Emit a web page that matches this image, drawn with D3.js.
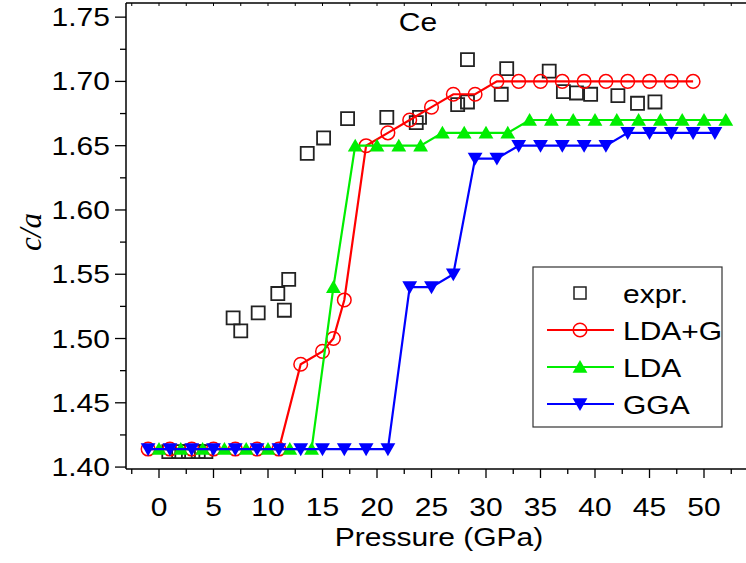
<!DOCTYPE html>
<html>
<head>
<meta charset="utf-8">
<script src="https://cdn.jsdelivr.net/npm/d3@7"></script>
<style>
  html, body { margin: 0; padding: 0; background: #fff; }
  svg { display: block; }
</style>
</head>
<body>
<svg id="chart" width="746" height="563"></svg>
<script>
// ---------------- data ----------------
const exprPressure = [0.9, 1.8, 2.7, 3.6, 4.3, 6.8, 7.5, 9.1, 10.9, 11.9, 11.5, 13.6, 15.1, 17.3, 20.9, 23.9, 23.6, 27.4, 28.3, 28.3, 31.4, 31.9, 35.8, 37.1, 38.3, 39.6, 42.1, 43.9, 45.5];
const exprCA       = [1.412, 1.412, 1.412, 1.412, 1.412, 1.516, 1.506, 1.520, 1.535, 1.546, 1.522, 1.644, 1.656, 1.671, 1.672, 1.672, 1.668, 1.682, 1.684, 1.717, 1.690, 1.710, 1.708, 1.692, 1.691, 1.690, 1.689, 1.683, 1.684];

const ldagPressure = [-1, 1, 3, 5, 7, 9, 11, 13, 15, 16, 17, 19, 21, 23, 25, 27, 29, 31, 33, 35, 37, 39, 41, 43, 45, 47, 49];
const ldagCA       = [1.414, 1.414, 1.414, 1.414, 1.414, 1.414, 1.414, 1.48, 1.49, 1.50, 1.53, 1.65, 1.66, 1.67, 1.68, 1.69, 1.69, 1.70, 1.70, 1.70, 1.70, 1.70, 1.70, 1.70, 1.70, 1.70, 1.70];

const ldaPressure = [0, 2, 4, 6, 8, 10, 12, 14, 16, 18, 20, 22, 24, 26, 28, 30, 32, 34, 36, 38, 40, 42, 44, 46, 48, 50, 52];
const ldaCA       = [1.414, 1.414, 1.414, 1.414, 1.414, 1.414, 1.414, 1.414, 1.54, 1.65, 1.65, 1.65, 1.65, 1.66, 1.66, 1.66, 1.66, 1.67, 1.67, 1.67, 1.67, 1.67, 1.67, 1.67, 1.67, 1.67, 1.67];

const ggaPressure = [-1, 1, 3, 5, 7, 9, 11, 13, 15, 17, 19, 21, 23, 25, 27, 29, 31, 33, 35, 37, 39, 41, 43, 45, 47, 49, 51];
const ggaCA       = [1.414, 1.414, 1.414, 1.414, 1.414, 1.414, 1.414, 1.414, 1.414, 1.414, 1.414, 1.414, 1.54, 1.54, 1.55, 1.64, 1.64, 1.65, 1.65, 1.65, 1.65, 1.65, 1.66, 1.66, 1.66, 1.66, 1.66];

const xTickValues = [0, 5, 10, 15, 20, 25, 30, 35, 40, 45, 50];
const yTickValues = [1.40, 1.45, 1.50, 1.55, 1.60, 1.65, 1.70, 1.75];
const seriesNames = ["expr.", "LDA+G", "LDA", "GGA"];
const seriesColors = ["#222222", "#ff0000", "#00ee00", "#0000ff"];
const chartTitle = "Ce";
const xLabel = "Pressure (GPa)";
const yLabel = "c/a";

// ---------------- layout ----------------
const svg = d3.select("#chart");
const plotLeft = 126, plotTop = 3, plotBottom = 469, plotRight = 760;
const unitPx = 10.9, zeroX = 159;
const x = d3.scaleLinear()
  .domain([(plotLeft - zeroX) / unitPx, (plotRight - zeroX) / unitPx])
  .range([plotLeft, plotRight]);
const y = d3.scaleLinear().domain([1.3985, 1.761]).range([plotBottom, plotTop]);

const FONT = "'Liberation Sans', Arial, sans-serif";
const SX = 1.2;

function sText(g, tx, ty, str, size, anchor) {
  return g.append("text")
    .attr("transform", `translate(${tx},${ty}) scale(${SX},1)`)
    .attr("font-family", FONT)
    .attr("font-size", size)
    .attr("text-anchor", anchor || "start")
    .attr("fill", "#000")
    .text(str);
}

// ---------------- axes ----------------
const axisG = svg.append("g");
const xMinor = d3.range(-2.5, 55, 2.5).filter(v => !xTickValues.includes(v));
const yMinor = d3.range(1.425, 1.76, 0.05);

// bottom axis
axisG.append("line").attr("x1", plotLeft).attr("x2", plotRight).attr("y1", plotBottom).attr("y2", plotBottom)
  .attr("stroke", "#000").attr("stroke-width", 1.5);
xTickValues.forEach(v => {
  axisG.append("line").attr("x1", x(v)).attr("x2", x(v)).attr("y1", plotBottom).attr("y2", plotBottom + 9)
    .attr("stroke", "#000").attr("stroke-width", 1.3);
  sText(axisG, x(v), 516, String(v), 25, "middle");
});
xMinor.forEach(v => {
  axisG.append("line").attr("x1", x(v)).attr("x2", x(v)).attr("y1", plotBottom).attr("y2", plotBottom + 5)
    .attr("stroke", "#000").attr("stroke-width", 1.3);
});
// top axis
axisG.append("line").attr("x1", plotLeft).attr("x2", plotRight).attr("y1", plotTop).attr("y2", plotTop)
  .attr("stroke", "#000").attr("stroke-width", 1.5);
xTickValues.concat(xMinor).forEach(v => {
  axisG.append("line").attr("x1", x(v)).attr("x2", x(v)).attr("y1", plotTop).attr("y2", plotTop + 3)
    .attr("stroke", "#000").attr("stroke-width", 1);
});
// left axis
axisG.append("line").attr("x1", plotLeft).attr("x2", plotLeft).attr("y1", plotTop).attr("y2", plotBottom)
  .attr("stroke", "#000").attr("stroke-width", 1.5);
yTickValues.forEach(v => {
  axisG.append("line").attr("x1", plotLeft - 11).attr("x2", plotLeft).attr("y1", y(v)).attr("y2", y(v))
    .attr("stroke", "#000").attr("stroke-width", 1.3);
  sText(axisG, 110, y(v) + 9, v.toFixed(2), 25, "end");
});
yMinor.forEach(v => {
  axisG.append("line").attr("x1", plotLeft - 6).attr("x2", plotLeft).attr("y1", y(v)).attr("y2", y(v))
    .attr("stroke", "#000").attr("stroke-width", 1.3);
});

// axis titles
sText(svg, 439, 546, xLabel, 25, "middle");
svg.append("text")
  .attr("transform", "translate(41,232) rotate(-90)")
  .attr("font-family", "'Liberation Serif', 'Times New Roman', serif")
  .attr("font-style", "italic")
  .attr("font-size", 31)
  .attr("text-anchor", "middle")
  .text(yLabel);
sText(svg, 418, 31, chartTitle, 25, "middle");

// ---------------- marks ----------------
const plot = svg.append("g");
const line = d3.line().x(d => x(d[0])).y(d => y(d[1]));
const zip = (a, b) => a.map((v, i) => [v, b[i]]);

const sqSym = d3.symbol().type(d3.symbolSquare).size(170);
const triSym = d3.symbol().type(d3.symbolTriangle).size(95);

function markerAt(g, name, color, px, py) {
  if (name === "expr.") {
    g.append("path").attr("d", sqSym()).attr("transform", `translate(${px},${py})`)
      .attr("fill", "none").attr("stroke", color).attr("stroke-width", 1.8);
  } else if (name === "LDA+G") {
    g.append("circle").attr("cx", px).attr("cy", py).attr("r", 6.8)
      .attr("fill", "none").attr("stroke", color).attr("stroke-width", 1.5);
  } else if (name === "LDA") {
    g.append("path").attr("d", triSym()).attr("transform", `translate(${px},${py + 1.5})`)
      .attr("fill", color).attr("stroke", "none");
  } else {
    g.append("path").attr("d", triSym()).attr("transform", `translate(${px},${py - 1.5}) rotate(180)`)
      .attr("fill", color).attr("stroke", "none");
  }
}

// experimental squares
const exprData = zip(exprPressure, exprCA);
exprData.forEach(d => markerAt(plot, "expr.", seriesColors[0], x(d[0]), y(d[1])));

const calc = [
  [seriesNames[1], seriesColors[1], zip(ldagPressure, ldagCA)],
  [seriesNames[2], seriesColors[2], zip(ldaPressure, ldaCA)],
  [seriesNames[3], seriesColors[3], zip(ggaPressure, ggaCA)]
];
calc.forEach(([name, color, data]) => {
  const g = plot.append("g");
  g.append("path").attr("d", line(data)).attr("fill", "none")
    .attr("stroke", color).attr("stroke-width", 2.2);
  data.forEach(d => markerAt(g, name, color, x(d[0]), y(d[1])));
});

// ---------------- legend ----------------
const lg = svg.append("g");
lg.append("rect").attr("x", 533).attr("y", 267).attr("width", 189).attr("height", 160)
  .attr("fill", "#fff").attr("stroke", "#333").attr("stroke-width", 1.2);
const rowY = [293, 330, 367, 404];
seriesNames.forEach((name, i) => {
  const cy = rowY[i];
  if (i > 0) {
    lg.append("line").attr("x1", 547).attr("x2", 614).attr("y1", cy).attr("y2", cy)
      .attr("stroke", seriesColors[i]).attr("stroke-width", 2.2);
  }
  if (i === 0) {
    lg.append("rect").attr("x", 574).attr("y", cy - 6).attr("width", 12).attr("height", 12)
      .attr("fill", "none").attr("stroke", seriesColors[0]).attr("stroke-width", 1.5);
  } else {
    markerAt(lg, name, seriesColors[i], 580, cy);
  }
  sText(lg, 623, cy + 10, name, 25, "start");
});
</script>
</body>
</html>
